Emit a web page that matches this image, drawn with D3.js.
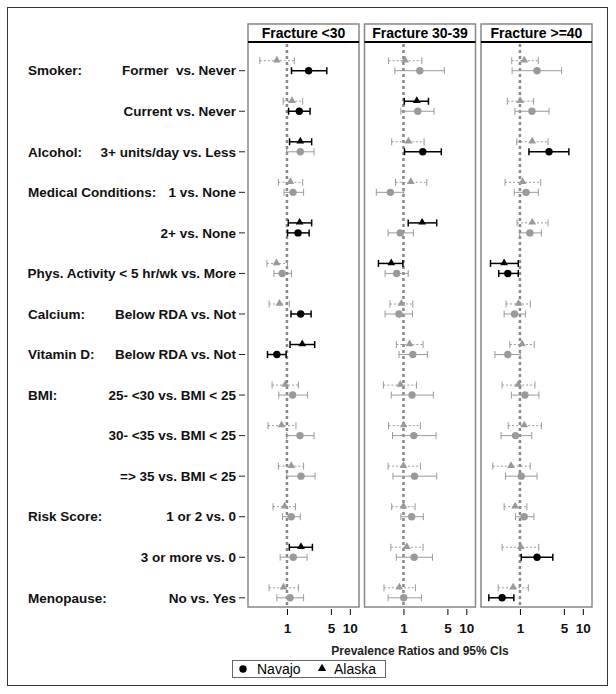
<!DOCTYPE html>
<html>
<head>
<meta charset="utf-8">
<script src="https://cdn.jsdelivr.net/npm/d3@7"></script>
<style>
  body { margin: 0; background: #fff; }
  svg { display: block; font-family: Arial, "Liberation Sans", sans-serif; }
</style>
</head>
<body>
<div id="chart"></div>
<script>
// Forest plot: prevalence ratios (and 95% CIs) by fracture group.
// One row per comparison, Navajo (circle) and Alaska (triangle).

var rowLabels = [
  "Former  vs. Never", "Current vs. Never", "3+ units/day vs. Less",
  "1 vs. None", "2+ vs. None", "Phys. Activity < 5 hr/wk vs. More",
  "Below RDA vs. Not", "Below RDA vs. Not", "25- <30 vs. BMI < 25",
  "30- <35 vs. BMI < 25", "=> 35 vs. BMI < 25", "1 or 2 vs. 0",
  "3 or more vs. 0", "No vs. Yes"
];
// group label and the row it sits on
var groupLabels = ["Smoker:", "Alcohol:", "Medical Conditions:", "Calcium:", "Vitamin D:", "BMI:", "Risk Score:", "Menopause:"];
var groupRows = [0, 2, 3, 6, 7, 8, 11, 13];

var panels = ["Fracture <30", "Fracture 30-39", "Fracture >=40"];
var tickValues = [1, 5, 10];

// one inner array per panel, 14 rows each
var navajoPR = [
  [2.21, 1.57, 1.63, 1.25, 1.5, 0.84, 1.65, 0.69, 1.23, 1.61, 1.67, 1.17, 1.26, 1.12],
  [1.82, 1.69, 2.03, 0.62, 0.89, 0.78, 0.85, 1.41, 1.37, 1.46, 1.5, 1.35, 1.48, 1.01],
  [1.87, 1.55, 2.9, 1.25, 1.44, 0.64, 0.82, 0.64, 1.2, 0.85, 1.05, 1.17, 1.87, 0.52]
];
var navajoLo = [
  [1.18, 1.06, 0.99, 0.9, 1.02, 0.62, 1.16, 0.49, 0.74, 0.99, 0.99, 0.85, 0.78, 0.69],
  [0.73, 0.91, 1.04, 0.37, 0.57, 0.51, 0.51, 0.85, 0.64, 0.67, 0.68, 0.91, 0.77, 0.57],
  [0.75, 0.83, 1.39, 0.81, 0.99, 0.46, 0.56, 0.4, 0.73, 0.5, 0.59, 0.85, 1.05, 0.32]
];
var navajoHi = [
  [4.3, 2.33, 2.7, 1.84, 2.25, 1.18, 2.42, 0.97, 2.13, 2.7, 2.8, 1.63, 2.09, 1.84],
  [4.47, 3.07, 4.0, 1.01, 1.44, 1.19, 1.39, 2.4, 2.99, 3.3, 3.38, 2.07, 2.89, 1.93],
  [4.6, 2.9, 6.0, 1.96, 2.19, 0.94, 1.22, 1.01, 2.0, 1.54, 1.87, 1.67, 3.33, 0.8]
];
var alaskaPR = [
  [0.69, 1.2, 1.63, 1.13, 1.59, 0.68, 0.76, 1.75, 0.94, 0.82, 1.17, 0.92, 1.67, 0.88],
  [1.06, 1.63, 1.2, 1.31, 1.98, 0.64, 0.93, 1.25, 0.89, 1.01, 1.0, 1.0, 1.13, 0.86],
  [1.17, 1.01, 1.57, 1.1, 1.57, 0.56, 0.95, 1.08, 0.94, 1.17, 0.72, 0.84, 1.03, 0.78]
];
var alaskaLo = [
  [0.37, 0.87, 1.1, 0.73, 1.05, 0.48, 0.52, 1.12, 0.58, 0.5, 0.73, 0.6, 1.09, 0.52],
  [0.58, 1.03, 0.65, 0.75, 1.19, 0.4, 0.61, 0.77, 0.48, 0.58, 0.57, 0.65, 0.63, 0.49],
  [0.74, 0.63, 0.89, 0.58, 0.9, 0.34, 0.6, 0.69, 0.52, 0.65, 0.37, 0.56, 0.52, 0.45]
];
var alaskaHi = [
  [1.31, 1.78, 2.47, 1.78, 2.47, 1.02, 1.09, 2.76, 1.52, 1.39, 1.84, 1.37, 2.54, 1.52],
  [1.96, 2.5, 2.13, 2.35, 3.38, 0.98, 1.41, 2.05, 1.61, 1.86, 1.86, 1.53, 2.05, 1.55],
  [1.96, 1.65, 2.8, 2.14, 2.8, 0.94, 1.46, 1.69, 1.73, 2.19, 1.46, 1.29, 1.99, 1.36]
];

var W = 616, H = 694;
var panelTop = 24, headerH = 18, panelBottom = 607;
var BLACK = "#000", GRAY = "#9a9a9a";

var svg = d3.select("#chart").append("svg")
  .attr("width", W).attr("height", H);

// outer frame
svg.append("rect")
  .attr("x", 7.5).attr("y", 7.5).attr("width", 600).attr("height", 678)
  .attr("fill", "none").attr("stroke", "#333").attr("stroke-width", 1);

var panelX = d3.scaleBand().domain(panels).range([248, 592]).paddingInner(0.047);

var rowY = d3.scalePoint()
  .domain(d3.range(rowLabels.length))
  .range([70.7, 597.8]);

// row labels + ticks on the left
var left = svg.append("g").attr("font-weight", "bold").attr("font-size", 13.5).attr("fill", "#111");
left.selectAll("text.row").data(rowLabels).enter().append("text")
  .attr("class", "row")
  .attr("x", 236).attr("y", function(d, i){ return rowY(i); })
  .attr("dy", "0.35em")
  .attr("text-anchor", "end")
  .style("white-space", "pre")
  .text(function(d){ return d; });
left.selectAll("text.grp").data(groupLabels).enter().append("text")
  .attr("class", "grp")
  .attr("x", 28).attr("y", function(d, i){ return rowY(groupRows[i]); })
  .attr("dy", "0.35em")
  .text(function(d){ return d; });
svg.append("g").selectAll("line").data(rowLabels).enter().append("line")
  .attr("x1", 239).attr("x2", 245)
  .attr("y1", function(d, i){ return rowY(i); })
  .attr("y2", function(d, i){ return rowY(i); })
  .attr("stroke", "#222");

function isSig(lo, hi){ return lo > 1 || hi < 1; }

panels.forEach(function(name, p){
  var x0 = panelX(name), w = panelX.bandwidth();
  var x = d3.scaleLog().domain([0.24, 14]).range([x0, x0 + w]);
  var g = svg.append("g");

  // panel frame and header
  g.append("rect")
    .attr("x", x0).attr("y", panelTop).attr("width", w).attr("height", panelBottom - panelTop)
    .attr("fill", "#fff").attr("stroke", "#888").attr("stroke-width", 1.5);
  g.append("line")
    .attr("x1", x0).attr("x2", x0 + w)
    .attr("y1", panelTop + headerH).attr("y2", panelTop + headerH)
    .attr("stroke", "#000").attr("stroke-width", 2);
  g.append("text")
    .attr("x", x0 + w / 2).attr("y", panelTop + headerH / 2)
    .attr("dy", "0.36em").attr("text-anchor", "middle")
    .attr("font-weight", "bold").attr("font-size", 14)
    .text(name);

  // reference line at PR = 1
  g.append("line")
    .attr("x1", x(1)).attr("x2", x(1))
    .attr("y1", panelTop + headerH + 2).attr("y2", panelBottom)
    .attr("stroke", "#888").attr("stroke-width", 2.5)
    .attr("stroke-dasharray", "3,3");

  // bottom axis
  var axis = d3.axisBottom(x).tickValues(tickValues).tickFormat(d3.format("d")).tickSize(6).tickPadding(8);
  var ax = svg.append("g").attr("transform", "translate(0," + (panelBottom + 2) + ")").call(axis);
  ax.select(".domain").remove();
  ax.selectAll("text").attr("font-size", 13.5).attr("font-weight", "bold")
    .attr("font-family", "Arial, 'Liberation Sans', sans-serif").attr("fill", "#111");

  // draw both series
  var series = [
    { pr: alaskaPR[p], lo: alaskaLo[p], hi: alaskaHi[p], off: -10, tri: true },
    { pr: navajoPR[p], lo: navajoLo[p], hi: navajoHi[p], off: 0, tri: false }
  ];
  series.forEach(function(s){
    for (var i = 0; i < s.pr.length; i++) {
      var sig = isSig(s.lo[i], s.hi[i]);
      var col = sig ? BLACK : GRAY;
      var y = rowY(i) + s.off;
      var dash = (!sig && s.tri) ? "2,2" : null;
      var e = g.append("g").attr("stroke", col).attr("stroke-width", sig ? 1.5 : 1);
      e.append("line").attr("x1", x(s.lo[i])).attr("x2", x(s.hi[i])).attr("y1", y).attr("y2", y)
        .attr("stroke-dasharray", dash);
      e.append("line").attr("x1", x(s.lo[i])).attr("x2", x(s.lo[i])).attr("y1", y - 3.5).attr("y2", y + 3.5);
      e.append("line").attr("x1", x(s.hi[i])).attr("x2", x(s.hi[i])).attr("y1", y - 3.5).attr("y2", y + 3.5);
      if (s.tri) {
        g.append("path")
          .attr("d", d3.symbol().type(d3.symbolTriangle).size(26)())
          .attr("transform", "translate(" + x(s.pr[i]) + "," + (y - 0.5) + ")")
          .attr("fill", col);
      } else {
        g.append("circle").attr("cx", x(s.pr[i])).attr("cy", y).attr("r", 3.7).attr("fill", col);
      }
    }
  });
});

// axis title
svg.append("text")
  .attr("x", 420).attr("y", 651).attr("dy", "0.35em")
  .attr("text-anchor", "middle").attr("font-weight", "bold").attr("font-size", 12)
  .attr("fill", "#222")
  .text("Prevalence Ratios and 95% CIs");

// legend
var leg = svg.append("g");
leg.append("rect").attr("x", 232.5).attr("y", 660.5).attr("width", 153).attr("height", 17)
  .attr("fill", "#fff").attr("stroke", "#666");
leg.append("circle").attr("cx", 243).attr("cy", 669).attr("r", 3.7).attr("fill", "#000");
leg.append("text").attr("x", 257).attr("y", 669).attr("dy", "0.36em")
  .attr("font-size", 14).text("Navajo");
leg.append("path")
  .attr("d", d3.symbol().type(d3.symbolTriangle).size(30)())
  .attr("transform", "translate(322,668.5)").attr("fill", "#000");
leg.append("text").attr("x", 334).attr("y", 669).attr("dy", "0.36em")
  .attr("font-size", 14).text("Alaska");
</script>
</body>
</html>
